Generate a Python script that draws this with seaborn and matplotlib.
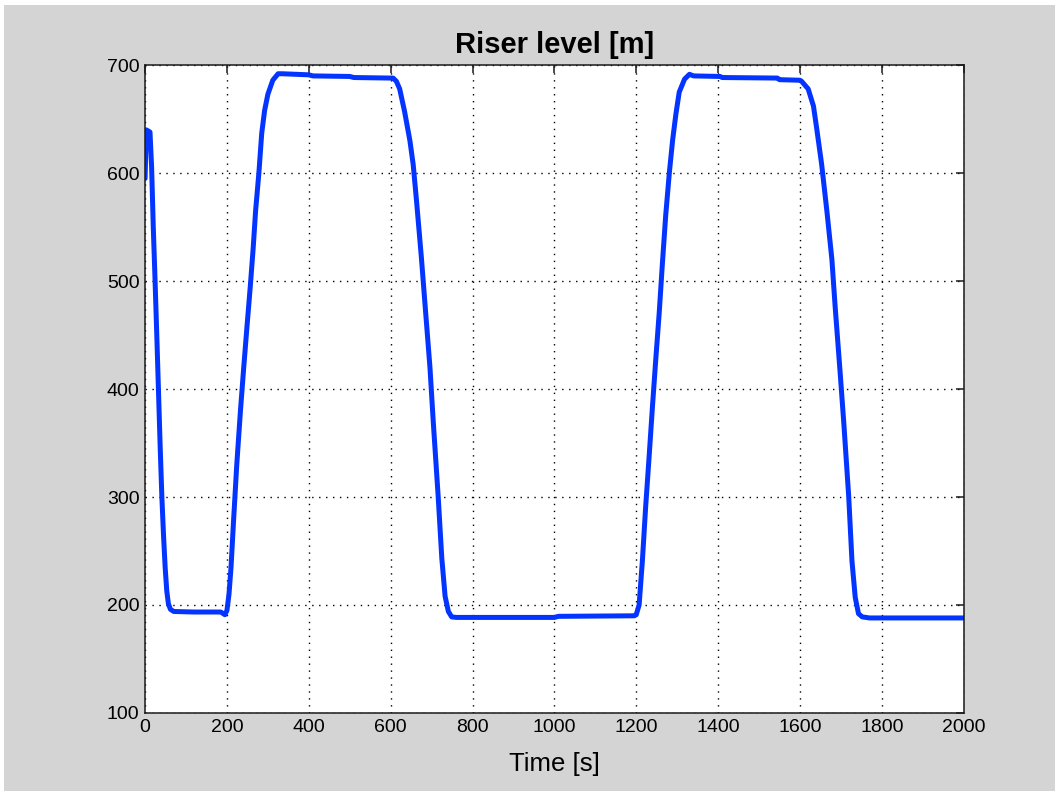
# ========== Libraries ==========

import matplotlib
matplotlib.use("Agg")
import matplotlib.pyplot as plt
from matplotlib.patches import Rectangle
import seaborn as sns


# ========== Data ==========

# Time axis [s]
time_s = [
    0, 3, 12, 16, 20, 24, 29, 33, 37, 41, 45, 49, 53, 57, 62, 70,
    120, 185, 195, 200,
    205, 210, 216, 224, 233, 241, 249, 257, 264, 270, 278, 285, 292, 300, 312, 325, 335,
    400, 410, 500, 510, 600,
    606, 614, 622, 634, 647, 655, 663, 675, 684, 696, 704, 716, 725, 733, 741, 749, 760,
    900, 1000, 1010, 1195, 1200,
    1207, 1215, 1223, 1231, 1240, 1248, 1256, 1264, 1272, 1281, 1289, 1297, 1305, 1318, 1330,
    1340, 1405, 1410, 1545, 1550, 1600,
    1604, 1620, 1633, 1641, 1653, 1666, 1678, 1686, 1698, 1707, 1719, 1727, 1735, 1743, 1752, 1770,
    2000,
]

# Riser level [m]
level_m = [
    595, 640, 638, 605, 550, 505, 445, 395, 345, 300, 265, 235, 213, 201, 196, 194,
    193.5, 193.5, 191, 195,
    210, 235, 277, 330, 380, 420, 458, 495, 530, 565, 600, 637, 658, 673, 686, 692, 692,
    691, 690, 689.5, 688.5, 688,
    688, 685, 678, 657, 630, 608, 575, 522, 478, 420, 370, 301, 243, 208, 194, 189, 188.5,
    188.5, 188.5, 189.5, 190, 191,
    200, 241, 291, 335, 386, 429, 470, 517, 561, 601, 631, 655, 675, 687, 691.5,
    690, 689.5, 688.5, 688, 686.5, 686,
    685, 678, 662, 641, 608, 564, 520, 476, 416, 369, 301, 241, 207, 192, 189, 188,
    188,
]

x_ticks = [0, 200, 400, 600, 800, 1000, 1200, 1400, 1600, 1800, 2000]
y_ticks = [100, 200, 300, 400, 500, 600, 700]


# ========== Plot ==========

sns.set_style("white")
plt.rcParams['font.family'] = ['Liberation Sans', 'DejaVu Sans']
plt.rcParams['text.color'] = 'black'
plt.rcParams['axes.labelcolor'] = 'black'
plt.rcParams['xtick.color'] = 'black'
plt.rcParams['ytick.color'] = 'black'

fig = plt.figure(figsize=(10.59, 7.96), dpi=100)
fig.patch.set_facecolor('white')
# grey MATLAB-like figure panel with a thin white margin
fig.patches.append(Rectangle((0.004, 0.006), 0.992, 0.988, transform=fig.transFigure,
                             facecolor='#d4d4d4', edgecolor='none', zorder=-10))

ax = fig.add_axes([0.137, 0.1043, 0.773, 0.8139])
ax.set_facecolor('white')

sns.lineplot(x=time_s, y=level_m, ax=ax, color='#0434ff', linewidth=3.6, sort=False)

ax.set_xlim(0, 2000)
ax.set_ylim(100, 700)
ax.set_xticks(x_ticks)
ax.set_yticks(y_ticks)

# Dotted MATLAB-style grid
ax.grid(True, color='black', linestyle=(0, (1, 4)), linewidth=1.0)

# Box and inward ticks on all sides
for side in ['top', 'bottom', 'left', 'right']:
    ax.spines[side].set_visible(True)
    ax.spines[side].set_color('#1a1a1a')
    ax.spines[side].set_linewidth(1.1)
ax.tick_params(direction='in', length=6, width=1.1, top=True, right=True,
               labelsize=14, pad=4, color='#1a1a1a', labelcolor='black')

ax.set_title('Riser level [m]', fontsize=21, fontweight='bold', pad=9)
ax.set_xlabel('Time [s]', fontsize=18.5, labelpad=12)
ax.set_ylabel('')

fig.savefig('out.png', dpi=100, facecolor=fig.get_facecolor())
